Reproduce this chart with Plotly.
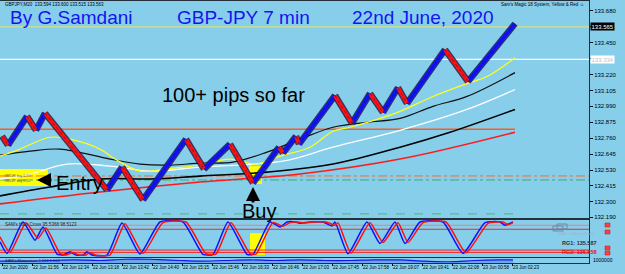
import plotly.graph_objects as go

# ---------------- data ----------------
pivot_bar = [2, 8, 27, 36, 45, 107, 122, 143, 186, 204, 230, 253, 279, 283, 296, 299,
             335, 352, 370, 383, 398, 407, 445, 468, 515]
pivot_price = [132.774, 132.709, 132.918, 132.817, 132.940, 132.386, 132.551, 132.314,
               132.753, 132.537, 132.717, 132.436, 132.695, 132.652, 132.774, 132.717,
               133.069, 132.868, 133.083, 132.947, 133.126, 133.011, 133.400, 133.170, 133.587]

ma_yellow_bar = [0, 20, 50, 70, 100, 115, 140, 165, 200, 230, 255, 280, 310, 333, 350, 377, 400, 433, 467, 487, 515]
ma_yellow = [132.630, 132.681, 132.767, 132.753, 132.681, 132.609, 132.522, 132.537, 132.566, 132.609,
             132.573, 132.630, 132.695, 132.810, 132.839, 132.896, 132.954, 133.062, 133.155, 133.206, 133.342]

ma_black1_bar = [0, 30, 60, 110, 140, 170, 200, 233, 267, 300, 333, 367, 400, 433, 467, 515]
ma_black1 = [132.637, 132.666, 132.681, 132.609, 132.573, 132.566, 132.580, 132.587, 132.659, 132.753,
             132.839, 132.875, 132.903, 132.990, 133.062, 133.234]

ma_white_bar = [0, 30, 67, 110, 150, 200, 283, 333, 400, 467, 515]
ma_white = [132.465, 132.501, 132.573, 132.558, 132.522, 132.551, 132.594, 132.695, 132.817, 132.968, 133.112]

ma_black2_bar = [0, 50, 100, 150, 200, 267, 333, 400, 450, 515]
ma_black2 = [132.343, 132.407, 132.465, 132.465, 132.486, 132.515, 132.573, 132.695, 132.803, 132.968]

ma_red_bar = [0, 100, 200, 300, 400, 515]
ma_red = [132.285, 132.371, 132.443, 132.501, 132.609, 132.803]

ask_level = 133.565
white_level = 133.330
orange_level = 132.824
ddot_orange_level = 132.487
ddot_green_level = 132.458
green_dash_level = 132.213

price_ticks = [133.680, 133.565, 133.450, 133.335, 133.220, 133.105, 132.990, 132.875,
               132.760, 132.645, 132.530, 132.415, 132.300, 132.190]
price_tick_text = ["133.680", "", "133.450", "", "133.220", "133.105", "132.990", "132.875",
                   "132.760", "132.645", "132.530", "132.415", "132.300", "132.190"]

osc_bar = [0, 7, 23, 35, 43, 57, 63, 70, 76, 83, 87, 92, 107, 122, 140, 160, 183, 203, 213, 228,
           247, 253, 270, 280, 287, 295, 300, 310, 323, 332, 335, 348, 367, 380, 395, 405, 420,
           443, 463, 485, 500, 505, 513]
osc_blue = [40, 5, 100, 45, 85, 3, 0, 10, 0, 0, 10, 0, 0, 97, 3, 100, 100, 2, 2, 100,
            2, 2, 100, 85, 100, 100, 96, 100, 100, 88, 100, 4, 100, 35, 100, 35, 100,
            100, 5, 98, 100, 90, 100]
osc_red_bar = [0, 10, 26, 38, 46, 60, 66, 73, 79, 86, 90, 95, 110, 125, 143, 163, 186, 206, 216, 231,
               250, 256, 273, 283, 290, 298, 303, 313, 326, 335, 338, 351, 370, 383, 398, 408, 423,
               446, 466, 488, 503, 508, 513]
osc_red = [55, 8, 98, 50, 82, 5, 0, 8, 0, 0, 8, 0, 0, 95, 5, 98, 100, 4, 3, 98,
           4, 3, 98, 87, 98, 100, 97, 100, 100, 90, 98, 6, 98, 38, 98, 38, 98,
           100, 7, 96, 100, 92, 98]
osc_levels = [90, 78, 15, 8]

vol_bar = [0, 25, 50, 75, 100, 125, 150, 165, 180, 200, 225, 250, 275, 300, 325, 350, 375, 400,
           425, 450, 475, 500, 513]
vol_val = [3, 3, 4, 5, 4, 6, 6, 5, 4, 3, 4, 5, 4, 5, 4, 4, 5, 5, 3, 2, 4, 5, 5]

time_bar = [2, 32, 62, 92, 122, 152, 182, 212, 242, 272, 302, 332, 362, 392, 422, 452, 482, 512]
time_labels = ["22 Jun 2020", "22 Jun 11:56", "22 Jun 12:34", "22 Jun 13:18", "22 Jun 13:42",
               "22 Jun 14:40", "22 Jun 15:15", "22 Jun 15:46", "22 Jun 16:33", "22 Jun 16:46",
               "22 Jun 17:03", "22 Jun 17:45", "22 Jun 17:58", "22 Jun 19:07", "22 Jun 19:41",
               "22 Jun 22:08", "23 Jun 00:58", "23 Jun 02:23"]

entry_bar = [0, 48]
entry_price = [132.415, 132.537]
buy_bar = [249, 262]
buy_price = [132.429, 132.558]

# ---------------- layout helpers ----------------
W, H = 625, 274
ML, MR, MT, MB = 0, 36, 1, 11
PW, PH = W - ML - MR, H - MT - MB
BG = "#87CEEB"
FRAME = "#22303c"
FONT = "Liberation Sans, Arial, sans-serif"


def px(xp):
    return (xp - ML) / PW


def py(yp):
    return (H - MB - yp) / PH


fig = go.Figure()

up_x, up_y, dn_x, dn_y = [], [], [], []
for i in range(len(pivot_bar) - 1):
    seg_x = [pivot_bar[i], pivot_bar[i + 1], None]
    seg_y = [pivot_price[i], pivot_price[i + 1], None]
    if pivot_price[i + 1] > pivot_price[i]:
        up_x += seg_x
        up_y += seg_y
    else:
        dn_x += seg_x
        dn_y += seg_y

fig.add_shape(type="rect", xref="x", yref="y", x0=entry_bar[0], x1=entry_bar[1],
              y0=entry_price[0], y1=entry_price[1], fillcolor="#ffff00", line_width=0, layer="below")
fig.add_shape(type="rect", xref="x", yref="y", x0=buy_bar[0], x1=buy_bar[1],
              y0=buy_price[0], y1=buy_price[1], fillcolor="#ffff00", line_width=0, layer="below")


def hline(level, x0, x1, color, width=1, dash="solid"):
    fig.add_trace(go.Scatter(x=[x0, x1], y=[level, level], mode="lines",
                             line=dict(color=color, width=width, dash=dash),
                             hoverinfo="skip", showlegend=False, xaxis="x", yaxis="y"))


hline(ask_level, 0, 589, "#d2e184", 1.2)
hline(white_level, 0, 589, "#ffffff", 1.2)
hline(orange_level, 0, 515, "#ff5a1e", 1.5)
hline(ddot_orange_level, 0, 589, "#ff6a2a", 1, "dashdot")
hline(ddot_green_level, 0, 589, "#3cae6a", 1, "dashdot")
hline(green_dash_level, 0, 515, "#5fb98e", 1.3, "dash")

for bx, vals, col, wd in [(ma_red_bar, ma_red, "#ff1a1a", 1.6),
                          (ma_black2_bar, ma_black2, "#000000", 1.6),
                          (ma_white_bar, ma_white, "#ffffff", 1.3),
                          (ma_black1_bar, ma_black1, "#101010", 1.2),
                          (ma_yellow_bar, ma_yellow, "#ffff1a", 1.2)]:
    fig.add_trace(go.Scatter(x=bx, y=vals, mode="lines", line=dict(color=col, width=wd, shape="spline"),
                             hoverinfo="skip", showlegend=False, xaxis="x", yaxis="y"))

# price bricks
fig.add_trace(go.Scatter(x=up_x + dn_x, y=up_y + dn_y, mode="lines",
                         line=dict(color="rgba(28,28,72,0.85)", width=6.5),
                         hoverinfo="skip", showlegend=False, xaxis="x", yaxis="y"))
fig.add_trace(go.Scatter(x=up_x, y=up_y, mode="lines", line=dict(color="#1010ff", width=4),
                         hoverinfo="skip", showlegend=False, xaxis="x", yaxis="y"))
fig.add_trace(go.Scatter(x=dn_x, y=dn_y, mode="lines", line=dict(color="#ff1010", width=4),
                         hoverinfo="skip", showlegend=False, xaxis="x", yaxis="y"))
fig.add_trace(go.Scatter(x=up_x + dn_x, y=up_y + dn_y, mode="lines",
                         line=dict(color="rgba(20,20,60,0.5)", width=1, dash="dot"),
                         hoverinfo="skip", showlegend=False, xaxis="x", yaxis="y"))

# oscillator panel
for lv, col in zip(osc_levels, ["#e88080", "#ff2020", "#ff2020", "#ff2020"]):
    fig.add_trace(go.Scatter(x=[0, 589], y=[lv, lv], mode="lines", line=dict(color=col, width=1),
                             hoverinfo="skip", showlegend=False, xaxis="x2", yaxis="y2"))
fig.add_shape(type="rect", xref="x2", yref="y2", x0=250, x1=265, y0=0, y1=66,
              fillcolor="#ffff00", line_width=0, layer="below")
fig.add_trace(go.Scatter(x=osc_bar, y=osc_blue, mode="lines",
                         line=dict(color="#1010ff", width=1.5, shape="spline", smoothing=0.5),
                         hoverinfo="skip", showlegend=False, xaxis="x2", yaxis="y2"))
fig.add_trace(go.Scatter(x=osc_red_bar, y=osc_red, mode="lines",
                         line=dict(color="#ff1010", width=1.5, shape="spline", smoothing=0.5),
                         hoverinfo="skip", showlegend=False, xaxis="x2", yaxis="y2"))

# bottom panel
fig.add_trace(go.Scatter(x=vol_bar, y=vol_val, mode="lines", line=dict(color="#1515ee", width=1.2, shape="spline"),
                         fill="tozeroy", fillcolor="rgba(70,90,230,0.35)",
                         hoverinfo="skip", showlegend=False, xaxis="x3", yaxis="y3"))

axis_common = dict(showgrid=False, zeroline=False, showline=True, linecolor=FRAME, linewidth=1,
                   mirror=True, automargin=False)

fig.update_layout(
    width=W, height=H,
    margin=dict(l=ML, r=MR, t=MT, b=MB),
    paper_bgcolor=BG, plot_bgcolor=BG,
    showlegend=False,
    font=dict(family=FONT, color="#000000"),
    xaxis=dict(range=[0, 589], domain=[0, 1], anchor="y", showticklabels=False, ticks="", **axis_common),
    xaxis2=dict(range=[0, 589], domain=[0, 1], anchor="y2", matches="x", showticklabels=False, ticks="", **axis_common),
    xaxis3=dict(range=[0, 589], domain=[0, 1], anchor="y3", matches="x", tickvals=time_bar, ticktext=time_labels,
                ticks="outside", ticklen=2, tickcolor="#000", tickangle=0,
                tickfont=dict(size=4.5, color="#000"),
                ticklabelposition="outside right", **axis_common),
    yaxis=dict(domain=[py(218), 1], range=[132.183, 133.752], side="right", tickvals=price_ticks,
               ticktext=price_tick_text, ticks="outside", ticklen=3, tickcolor="#000",
               tickfont=dict(size=6, color="#000"), **axis_common),
    yaxis2=dict(domain=[py(257), py(220)], range=[-6, 106], side="right", showticklabels=False, ticks="", **axis_common),
    yaxis3=dict(domain=[0, py(258)], range=[0, 8], side="right", showticklabels=False, ticks="", **axis_common),
)

anns = []
for txt, xp in [("By G.Samdani", 8), ("GBP-JPY 7 min", 175), ("22nd June, 2020", 350)]:
    anns.append(dict(text=txt, xref="paper", yref="paper", x=px(xp), y=py(17), xanchor="left", yanchor="middle",
                     showarrow=False, font=dict(size=19, color="#1414f0", family=FONT)))
anns.append(dict(text="100+ pips so far", xref="paper", yref="paper", x=px(160), y=py(95), xanchor="left",
                 yanchor="middle", showarrow=False, font=dict(size=20, color="#000", family=FONT)))
anns.append(dict(text="Entry", xref="paper", yref="paper", x=px(54), y=py(183), xanchor="left",
                 yanchor="middle", showarrow=False, font=dict(size=20, color="#000", family=FONT)))
anns.append(dict(text="Buy", xref="paper", yref="paper", x=px(240), y=py(211), xanchor="left",
                 yanchor="middle", showarrow=False, font=dict(size=20, color="#000", family=FONT)))
anns.append(dict(text="", xref="paper", yref="paper", x=px(37), y=py(180), ax=16, ay=0, showarrow=True,
                 arrowhead=2, arrowsize=1, arrowwidth=2.8, arrowcolor="#000"))
anns.append(dict(text="", xref="paper", yref="paper", x=px(253), y=py(187), ax=0, ay=17, showarrow=True,
                 arrowhead=2, arrowsize=1, arrowwidth=2.8, arrowcolor="#000"))
anns.append(dict(text="GBPJPY,M20  133.594 133.600 133.515 133.563", xref="paper", yref="paper", x=px(3), y=py(4.5),
                 xanchor="left", yanchor="middle", showarrow=False, font=dict(size=4.5, color="#000")))
anns.append(dict(text="Sam's Magic 18 System, Yellow & Red ☺", xref="paper", yref="paper", x=px(586), y=py(4.5),
                 xanchor="right", yanchor="middle", showarrow=False, font=dict(size=4.5, color="#000")))
anns.append(dict(text="#88126 buy 0.10<br>#88127 buy 0.10", xref="paper", yref="paper", x=px(2), y=py(178),
                 xanchor="left", yanchor="middle", showarrow=False, font=dict(size=3.5, color="#555")))
anns.append(dict(text="SAM's HiLo Cross 95.5368 98.5123", xref="paper", yref="paper", x=px(3), y=py(224),
                 xanchor="left", yanchor="middle", showarrow=False, font=dict(size=4.5, color="#222")))
anns.append(dict(text="SAM's Momentum 1.564 1.564", xref="paper", yref="paper", x=px(3), y=py(260),
                 xanchor="left", yanchor="middle", showarrow=False, font=dict(size=4, color="#222")))
anns.append(dict(text="SAM's VolumeProfile", xref="paper", yref="paper", x=px(556), y=py(233),
                 xanchor="left", yanchor="middle", showarrow=False, font=dict(size=4, color="#9fb6c4")))
anns.append(dict(text="<b>RG1: 135.587</b>", xref="paper", yref="paper", x=px(560), y=py(243),
                 xanchor="left", yanchor="middle", showarrow=False, font=dict(size=5.5, color="#30303a")))
anns.append(dict(text="<b>RG2: 136.858</b>", xref="paper", yref="paper", x=px(560), y=py(252),
                 xanchor="left", yanchor="middle", showarrow=False, font=dict(size=5.5, color="#e01010")))
anns.append(dict(text="1000000", xref="paper", yref="paper", x=1, y=py(260), xshift=2,
                 xanchor="left", yanchor="middle", showarrow=False, font=dict(size=5, color="#000")))
anns.append(dict(text="133.565", xref="paper", yref="y", x=1, y=ask_level, xshift=1, xanchor="left",
                 yanchor="middle", showarrow=False, bgcolor="#000", borderpad=0.5,
                 font=dict(size=6, color="#fff")))
anns.append(dict(text="133.334", xref="paper", yref="y", x=1, y=white_level, xshift=1, xanchor="left",
                 yanchor="middle", showarrow=False, bgcolor="#fff", borderpad=0.5,
                 font=dict(size=6, color="#b8c4cc")))
fig.update_layout(annotations=anns)

fig.add_shape(type="rect", xref="paper", yref="paper", x0=px(553), x1=px(563), y0=py(231), y1=py(226),
              line=dict(color="#6a8aa8", width=1), fillcolor="rgba(0,0,0,0)")
fig.add_shape(type="rect", xref="paper", yref="paper", x0=px(557), x1=px(567), y0=py(229), y1=py(224),
              line=dict(color="#6a8aa8", width=1), fillcolor="rgba(0,0,0,0)")
for yy in [225, 232, 248, 253]:
    fig.add_shape(type="rect", xref="paper", yref="paper", x0=px(605), x1=px(610), y0=py(yy + 2), y1=py(yy - 2),
                  line=dict(color="#c01010", width=0.5), fillcolor="#ff4040")

fig.write_html("out.html")
